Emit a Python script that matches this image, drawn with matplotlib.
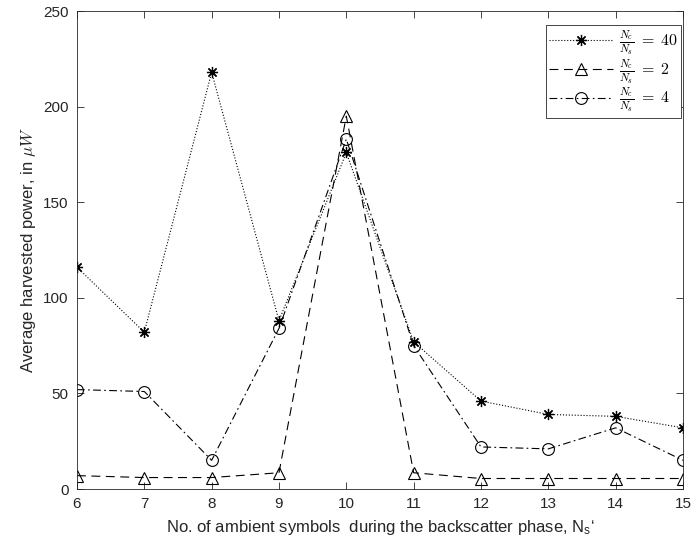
import matplotlib
matplotlib.use("Agg")
import matplotlib.pyplot as plt

# Number of ambient symbols during the backscatter phase
ns = [6, 7, 8, 9, 10, 11, 12, 13, 14, 15]

# Average harvested power (uW) for each Nc/Ns ratio
power_ratio40 = [116, 82, 218, 88, 176, 77, 46, 39, 38, 32]
power_ratio2 = [7, 6, 6, 8.5, 195, 8.5, 5.5, 5.5, 5.5, 5.5]
power_ratio4 = [52, 51, 15, 84, 183, 75, 22, 21, 32, 15]

labels = [r"$\frac{N_c}{N_s}\;=\;40$", r"$\frac{N_c}{N_s}\;=\;2$", r"$\frac{N_c}{N_s}\;=\;4$"]

xticks = list(range(6, 16))
yticks = [0, 50, 100, 150, 200, 250]

plt.rcParams["font.family"] = ["Liberation Sans", "DejaVu Sans"]
plt.rcParams["mathtext.fontset"] = "custom"
plt.rcParams["mathtext.rm"] = "Liberation Sans"
plt.rcParams["mathtext.it"] = "Liberation Sans:italic"

axis_gray = "#262626"
asterisk = (8, 2, 0)

fig = plt.figure(figsize=(6.96, 5.53), dpi=100)
ax = fig.add_axes([0.1106, 0.1157, 0.8707, 0.8644])

ax.plot(ns, power_ratio40, linestyle=":", color="black", lw=0.8,
        marker=asterisk, markersize=8, markerfacecolor="black",
        markeredgecolor="black", markeredgewidth=0.9, label=labels[0])
ax.plot(ns, power_ratio2, linestyle=(0, (8, 5)), color="black", lw=0.8,
        marker="^", markersize=9, markerfacecolor="none",
        markeredgecolor="black", markeredgewidth=0.8, label=labels[1])
ax.plot(ns, power_ratio4, linestyle=(0, (7, 3, 1.5, 3)), color="black", lw=0.8,
        marker="o", markersize=8.5, markerfacecolor="none",
        markeredgecolor="black", markeredgewidth=0.8, label=labels[2])

ax.set_xlim(6, 15)
ax.set_ylim(0, 250)
ax.set_xticks(xticks)
ax.set_yticks(yticks)
ax.tick_params(direction="in", top=True, right=True, length=5, width=0.6,
               colors=axis_gray, labelsize=11, pad=6)
for sp in ax.spines.values():
    sp.set_color(axis_gray)
    sp.set_linewidth(0.6)

ax.set_xlabel("No. of ambient symbols  during the backscatter phase, N$_\\mathrm{s}$\u2018",
              fontsize=12, color=axis_gray, labelpad=5)
ylab = ax.set_ylabel(r"Average harvested power, in $\mu W$", fontsize=12,
                     color=axis_gray, labelpad=4)
ylab.set_math_fontfamily("cm")

leg = ax.legend(loc="upper right", bbox_to_anchor=(0.997, 0.971),
                fontsize=11.5, frameon=True, fancybox=False,
                edgecolor=axis_gray, framealpha=1, handlelength=4.0,
                borderaxespad=0.0, borderpad=0.2, labelspacing=0.0,
                handletextpad=0.4)
leg.get_frame().set_linewidth(0.6)
for t in leg.get_texts():
    t.set_math_fontfamily("cm")

fig.savefig("out.png", dpi=100)
